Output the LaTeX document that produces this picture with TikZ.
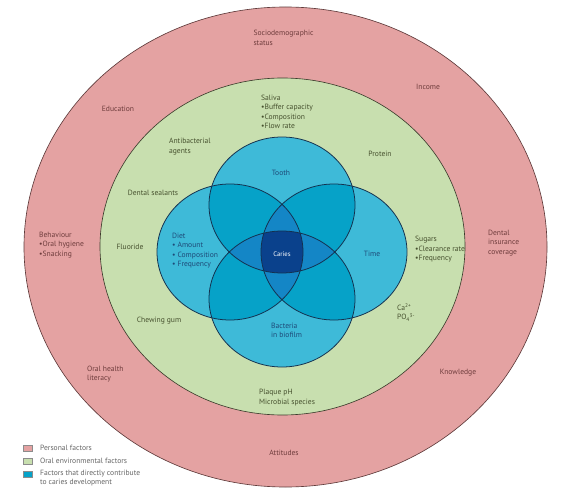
\documentclass[tikz,border=0pt]{standalone}
\usepackage{fontspec}
\setmainfont{PT Sans}

\definecolor{persfill}{HTML}{E4A2A2}
\definecolor{persline}{HTML}{5E3A3A}
\definecolor{perstext}{HTML}{6E3C3C}
\definecolor{envfill}{HTML}{C8DFAF}
\definecolor{envline}{HTML}{3C3C2C}
\definecolor{envtext}{HTML}{46502E}
\definecolor{blueA}{HTML}{3EBAD8}
\definecolor{blueB}{HTML}{06A2C8}
\definecolor{blueC}{HTML}{1486C6}
\definecolor{blueD}{HTML}{0A418C}
\definecolor{blueline}{HTML}{14304E}
\definecolor{bluetext}{HTML}{1E4A78}

\tikzset{
  pers/.style={text=perstext, align=left, inner sep=0pt},
  env/.style={text=envtext, align=left, inner sep=0pt},
  cause/.style={text=bluetext, align=left, inner sep=0pt},
  keybox/.style={draw=black!45, line width=0.5pt, minimum width=4.5mm, minimum height=3mm, inner sep=0pt},
  keytext/.style={text=black!60, align=left, anchor=west, inner sep=0pt}
}

\begin{document}
\begin{tikzpicture}[x=0.5mm, y=-0.5mm, font=\fontsize{10.8}{13.5}\selectfont]
  \useasboundingbox (0,0) rectangle (568,497);
  \fill[white] (0,0) rectangle (568,497);

  \coordinate (O) at (285.5,247);
  \coordinate (G) at (282.5,246.5);
  \coordinate (T) at (282,205);
  \coordinate (D) at (230,252);
  \coordinate (M) at (334,252);
  \coordinate (B) at (282,299);
  \def\rx{73}
  \def\ry{68}

  % rings
  \draw[fill=persfill, draw=persline, line width=0.9pt] (O) ellipse [x radius=261.5, y radius=240];
  \draw[fill=envfill, draw=envline, line width=0.9pt] (G) ellipse [x radius=182.5, y radius=168.5];

  % four circles and their overlaps
  \foreach \c in {T,D,M,B}
    \fill[blueA] (\c) ellipse [x radius=\rx, y radius=\ry];
  \foreach \a/\b in {T/D,T/M,T/B,D/M,D/B,M/B} {
    \begin{scope}
      \clip (\a) ellipse [x radius=\rx, y radius=\ry];
      \fill[blueB] (\b) ellipse [x radius=\rx, y radius=\ry];
    \end{scope}
  }
  \foreach \a/\b/\c in {T/D/M,T/D/B,T/M/B,D/M/B} {
    \begin{scope}
      \clip (\a) ellipse [x radius=\rx, y radius=\ry];
      \clip (\b) ellipse [x radius=\rx, y radius=\ry];
      \fill[blueC] (\c) ellipse [x radius=\rx, y radius=\ry];
    \end{scope}
  }
  \begin{scope}
    \clip (T) ellipse [x radius=\rx, y radius=\ry];
    \clip (D) ellipse [x radius=\rx, y radius=\ry];
    \clip (M) ellipse [x radius=\rx, y radius=\ry];
    \fill[blueD] (B) ellipse [x radius=\rx, y radius=\ry];
  \end{scope}
  \foreach \c in {T,D,M,B}
    \draw[blueline, line width=1.1pt] (\c) ellipse [x radius=\rx, y radius=\ry];

  % personal factors
  \node[pers] (socio) at (283.5,38) {Sociodemographic\\status};
  \node[pers] (edu) at (118,109) {Education};
  \node[pers] (income) at (428,87) {Income};
  \node[pers, anchor=west] (behav) at (39,245) {Behaviour\\•Oral hygiene\\•Snacking};
  \node[pers, anchor=west] (insur) at (488,243) {Dental\\insurance\\coverage};
  \node[pers, anchor=west] (liter) at (87,374) {Oral health\\literacy};
  \node[pers] (know) at (458,373) {Knowledge};
  \node[pers] (attit) at (284,453) {Attitudes};

  % oral environmental factors
  \node[env, anchor=west] (saliva) at (261,112) {Saliva\\•Buffer capacity\\•Composition\\•Flow rate};
  \node[env, anchor=west] (antib) at (169,146.5) {Antibacterial\\agents};
  \node[env] (prot) at (380,154) {Protein};
  \node[env] (seal) at (153,193) {Dental sealants};
  \node[env] (fluor) at (130,247) {Fluoride};
  \node[env, anchor=west] (sugar) at (415,249.5) {Sugars\\•Clearance rate\\•Frequency};
  \node[env, anchor=west] (ions) at (397,312.5) {Ca\textsuperscript{2+}\\PO\textsubscript{4}\textsuperscript{3-}};
  \node[env] (gum) at (159,321) {Chewing gum};
  \node[env, anchor=west] (plaque) at (259,397.5) {Plaque pH\\Microbial species};

  % direct factors
  \node[cause] (tooth) at (281,173) {Tooth};
  \node[cause, anchor=west] (diet) at (172,250.5) {Diet\\• Amount\\• Composition\\• Frequency};
  \node[cause] (time) at (372,254) {Time};
  \node[cause, anchor=west] (bact) at (271,330.5) {Bacteria\\in biofilm};
  \node[text=white, font=\fontsize{9.5}{11}\selectfont] (caries) at (282,254) {Caries};

  % legend
  \node[keybox, fill=persfill] (k1) at (27.5,448) {};
  \node[keybox, fill=envfill] (k2) at (27.5,461) {};
  \node[keybox, fill=blueB] (k3) at (27.5,474) {};
  \node[keytext] (l1) at (40,448) {Personal factors};
  \node[keytext] (l2) at (40,461) {Oral environmental factors};
  \node[keytext, anchor=north west] (l3) at (40,469.5) {Factors that directly contribute\\to caries development};
\end{tikzpicture}
\end{document}
